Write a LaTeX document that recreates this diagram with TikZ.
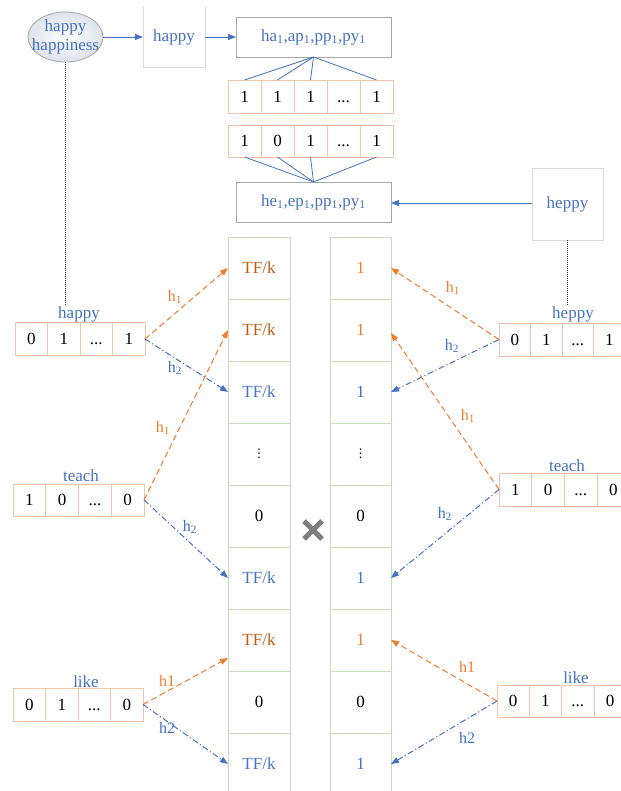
\documentclass[tikz,border=0pt]{standalone}
\usepackage{fontspec}
\setmainfont{Liberation Serif}
\newfontfamily\symfont{DejaVu Sans}
\usetikzlibrary{arrows.meta,shapes.geometric}
\definecolor{tblue}{HTML}{4472C4}
\definecolor{aorange}{HTML}{ED7D31}
\definecolor{dorange}{HTML}{C55A11}
\definecolor{cellor}{HTML}{F5C3A5}
\definecolor{colgreen}{HTML}{C5E0B4}
\definecolor{boxgray}{HTML}{A6A6A6}
\definecolor{lgrayb}{HTML}{D9D9D9}
\definecolor{crossgray}{HTML}{7F7F7F}
\definecolor{elout}{HTML}{DDE3EC}
\newcommand{\dts}{...}
\newcommand{\tfk}{TF/k}
\newcommand{\vd}{{\symfont\fontsize{12}{12}\selectfont ⋮}}
\begin{document}
\begin{tikzpicture}[x=1pt,y=-1pt,
  every node/.style={font=\fontsize{17}{19}\selectfont, inner sep=0pt, outer sep=0pt},
  vcell/.style={draw=cellor, line width=0.8pt, minimum height=33pt, text height=11.5pt, text depth=0pt},
  ccell/.style={draw=colgreen, line width=0.7pt, minimum width=62pt, minimum height=62pt},
  gbox/.style={draw=boxgray, line width=0.8pt, minimum width=155pt, minimum height=40pt, text=tblue},
  lbl/.style={text=tblue},
  hlo/.style={text=aorange, font=\fontsize{16}{18}\selectfont},
  hlb/.style={text=tblue, font=\fontsize{16}{18}\selectfont},
  harr/.style={aorange, line width=1pt, dash pattern=on 6pt off 3.5pt, -{Triangle[length=8pt,width=6pt]}},
  barr/.style={tblue, line width=1pt, dash pattern=on 6pt off 2.5pt on 1.2pt off 2.5pt, -{Triangle[length=8pt,width=6pt]}},
  sarr/.style={tblue, line width=0.9pt, -{Triangle[length=8pt,width=6pt]}},
  fan/.style={tblue, line width=0.8pt},
  dotl/.style={black!80, line width=1.3pt, dash pattern=on 1pt off 1pt}
]
\fill[white] (0,0) rectangle (620,791);
\useasboundingbox (0,0) rectangle (620,791);

% top chain
\node[ellipse, draw=boxgray, line width=0.8pt, minimum width=75pt, minimum height=50pt, inner color=white, outer color=elout] (el) at (65.5,37) {};
\node[text=tblue, align=center] (eltext) at (65.5,37) {happy\\happiness};
\node[minimum width=62pt, minimum height=60pt, text=tblue] (hb) at (174,37) {happy};
\draw[lgrayb, line width=0.8pt] (hb.north west) -- (hb.south west) -- (hb.south east) -- (hb.north east);
\node[gbox] (ha) at (313.5,37) {ha\textsubscript{1},ap\textsubscript{1},pp\textsubscript{1},py\textsubscript{1}};
\node[gbox] (he) at (313.5,202) {he\textsubscript{1},ep\textsubscript{1},pp\textsubscript{1},py\textsubscript{1}};
\node[draw=lgrayb, line width=0.8pt, minimum width=71pt, minimum height=72pt, text=tblue] (hp) at (567.5,204) {heppy};
\draw[sarr] (el.east) -- (hb.west);
\draw[sarr] (hb.east) -- (ha.west);
\draw[sarr] ([yshift=1pt]hp.west) -- ([yshift=1pt]hp.west -| he.east);

\foreach \v [count=\i] in {1,1,1,\dts,1}
  \node[vcell, minimum width=33pt] (ra\i) at ({228+33*(\i-0.5)},96.5) {\v};
\foreach \v [count=\i] in {1,0,1,\dts,1}
  \node[vcell, minimum width=33pt, minimum height=32pt] (rb\i) at ({228+33*(\i-0.5)},141) {\v};
\foreach \i in {1,2,3,5} {
  \draw[fan] (ha.south) -- (ra\i.north);
  \draw[fan] (rb\i.south) -- (he.north);
}

% dotted links
\coordinate (dl) at (65.5,305);
\coordinate (dr) at (567.5,305);
\draw[dotl] (el.south) -- (dl);
\draw[dotl] (hp.south) -- (dr);

% columns
\foreach \t/\c [count=\i] in {\tfk/dorange,\tfk/dorange,\tfk/tblue,\vd/black,0/black,\tfk/tblue,\tfk/dorange,0/black,\tfk/tblue}
  \node[ccell, text=\c] (L\i) at (259,{237+62*(\i-0.5)}) {\t};
\foreach \t/\c [count=\i] in {1/aorange,1/aorange,1/tblue,\vd/black,0/black,1/tblue,1/aorange,0/black,1/tblue}
  \node[ccell, minimum width=61pt, text=\c] (R\i) at (360.5,{237+62*(\i-0.5)}) {\t};
\draw[crossgray, line width=5pt] (304,521) -- (322,539) (304,539) -- (322,521);

% left vectors
\foreach \v [count=\i] in {0,1,\dts,1}
  \node[vcell, minimum width=32.5pt] (hv\i) at ({15+32.5*(\i-0.5)},339) {\v};
\foreach \v [count=\i] in {1,0,\dts,0}
  \node[vcell, minimum width=32.75pt, minimum height=32pt] (tv\i) at ({13+32.75*(\i-0.5)},500) {\v};
\foreach \v [count=\i] in {0,1,\dts,0}
  \node[vcell, minimum width=32.5pt] (lv\i) at ({13+32.5*(\i-0.5)},704.5) {\v};
\node[lbl] (lhap) at (79,314) {happy};
\node[lbl] (ltea) at (81,476) {teach};
\node[lbl] (llik) at (86,682) {like};

% right vectors
\foreach \v [count=\i] in {0,1,\dts,1}
  \node[vcell, minimum width=31.5pt] (rh\i) at ({499+31.5*(\i-0.5)},339.5) {\v};
\foreach \v [count=\i] in {1,0,\dts,0}
  \node[vcell, minimum width=32.7pt] (rt\i) at ({499+32.7*(\i-0.5)},489.5) {\v};
\foreach \v [count=\i] in {0,1,\dts,0}
  \node[vcell, minimum width=32.3pt, minimum height=32pt] (rl\i) at ({497+32.3*(\i-0.5)},701) {\v};
\node[lbl] (rhep) at (573,314) {heppy};
\node[lbl] (rtea) at (567,466) {teach};
\node[lbl] (rlik) at (576,678) {like};

% left hashes
\draw[harr] (hv4.east) -- (L1.west);
\draw[barr] (hv4.east) -- (L3.west);
\draw[harr] (tv4.east) -- (L2.west);
\draw[barr] (tv4.east) -- (L6.west);
\draw[harr] (lv4.east) -- ([yshift=-18pt]L7.west);
\draw[barr] (lv4.east) -- (L9.west);
\node[hlo] (a1) at (175,297) {h\textsubscript{1}};
\node[hlb] (a2) at (175,368) {h\textsubscript{2}};
\node[hlo] (a3) at (163,428) {h\textsubscript{1}};
\node[hlb] (a4) at (190,527) {h\textsubscript{2}};
\node[hlo] (a5) at (167,681) {h1};
\node[hlb] (a6) at (167,728) {h2};

% right hashes
\draw[harr] (rh1.west) -- (R1.east);
\draw[barr] (rh1.west) -- (R3.east);
\draw[harr] (rt1.west) -- ([yshift=-3pt]R2.east);
\draw[barr] (rt1.west) -- (R6.east);
\draw[harr] (rl1.west) -- (R7.east);
\draw[barr] (rl1.west) -- (R9.east);
\node[hlo] (b1) at (453,288) {h\textsubscript{1}};
\node[hlb] (b2) at (452,346) {h\textsubscript{2}};
\node[hlo] (b3) at (468,416) {h\textsubscript{1}};
\node[hlb] (b4) at (445,514) {h\textsubscript{2}};
\node[hlo] (b5) at (467,667) {h1};
\node[hlb] (b6) at (467,738) {h2};
\end{tikzpicture}
\end{document}
